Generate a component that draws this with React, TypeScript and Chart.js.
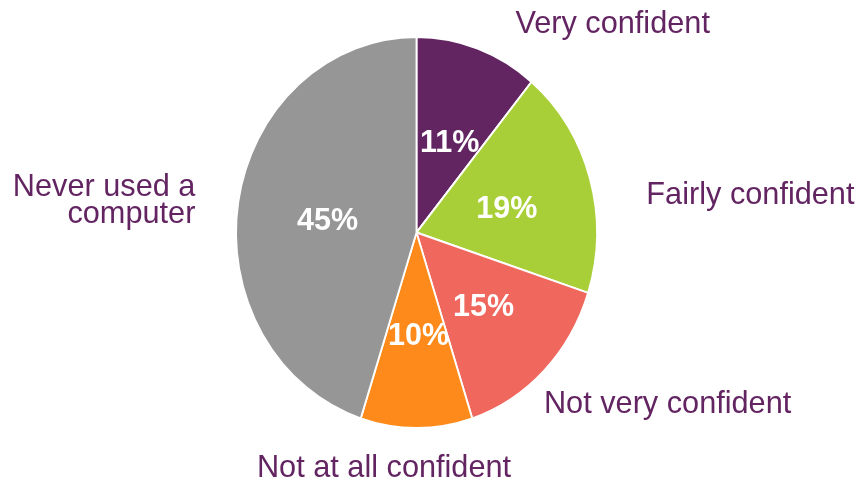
import React, { useEffect, useRef } from "react";
import { Chart, registerables } from "chart.js";

Chart.register(...registerables);

const categories = [
  "Very confident",
  "Fairly confident",
  "Not very confident",
  "Not at all confident",
  "Never used a computer",
];
const values = [11, 19, 15, 10, 45];
const labelLines = [
  ["Very confident"],
  ["Fairly confident"],
  ["Not very confident"],
  ["Not at all confident"],
  ["Never used a", "computer"],
];
const sliceColors = ["#632462", "#a9cf38", "#ef675d", "#fd8a1a", "#969696"];

// layout / style (not data)
const SX = 0.923; // horizontal squash of the pie (ellipse)
const TEXT_PURPLE = "#632462";
const FONT = "'Liberation Sans', Arial, sans-serif";
// outer label placement relative to the slice's outer mid point: [dx, dy(baseline), align]
const outerLayout: [number, number, CanvasTextAlign][] = [
  [37.5, -14.7, "left"],
  [55.7, 26.3, "left"],
  [-0.8, 41.3, "left"],
  [-32.5, 47.5, "center"],
  [-42, -6, "right"],
];
const LINE_GAP = 27.5;

const ellipsePlugin = {
  id: "ellipse",
  beforeDatasetsDraw(chart: any) {
    const el = chart.getDatasetMeta(0).data[0];
    if (!el) return;
    const ctx = chart.ctx;
    ctx.save();
    ctx.translate(el.x, 0);
    ctx.scale(SX, 1);
    ctx.translate(-el.x, 0);
  },
  afterDatasetsDraw(chart: any) {
    chart.ctx.restore();
    const ctx = chart.ctx;
    const meta = chart.getDatasetMeta(0);
    const total = values.reduce((a, b) => a + b, 0);
    meta.data.forEach((el: any, i: number) => {
      const { x, y, startAngle, endAngle, outerRadius } = el.getProps(
        ["x", "y", "startAngle", "endAngle", "outerRadius"],
        true
      );
      const mid = (startAngle + endAngle) / 2;
      // percentage inside
      const r = outerRadius * 0.51;
      const px = x + Math.cos(mid) * r * SX;
      const py = y + Math.sin(mid) * r;
      ctx.save();
      ctx.fillStyle = "#ffffff";
      ctx.font = `bold 30.5px ${FONT}`;
      ctx.textAlign = "center";
      ctx.textBaseline = "middle";
      ctx.fillText(`${Math.round((values[i] / total) * 100)}%`, px + 2, py + 4.5);
      // outer label
      const ex = x + Math.cos(mid) * (outerRadius + 1) * SX;
      const ey = y + Math.sin(mid) * (outerRadius + 1);
      const [dx, dy, align] = outerLayout[i];
      ctx.fillStyle = TEXT_PURPLE;
      ctx.font = `30.7px ${FONT}`;
      ctx.textAlign = align;
      ctx.textBaseline = "alphabetic";
      labelLines[i].forEach((line, k) => {
        ctx.fillText(line, ex + dx, ey + dy + k * LINE_GAP);
      });
      ctx.restore();
    });
  },
};

export default function App() {
  const ref = useRef<HTMLCanvasElement | null>(null);
  useEffect(() => {
    if (!ref.current) return;
    const chart = new Chart(ref.current, {
      type: "pie",
      data: {
        labels: categories,
        datasets: [
          {
            data: values,
            backgroundColor: sliceColors,
            borderColor: "#ffffff",
            borderWidth: 2,
            clip: false as any,
          },
        ],
      },
      options: {
        responsive: false,
        animation: false,
        events: [],
        layout: { padding: { top: 36, bottom: 51, left: 220, right: 244 } },
        plugins: {
          legend: { display: false },
          tooltip: { enabled: false },
        },
      },
      plugins: [ellipsePlugin],
    });
    return () => chart.destroy();
  }, []);
  return (
    <div style={{ position: "absolute", left: 0, top: 0, width: 857, height: 480, background: "#fff" }}>
      <canvas ref={ref} width={857} height={480} style={{ display: "block" }} />
    </div>
  );
}
